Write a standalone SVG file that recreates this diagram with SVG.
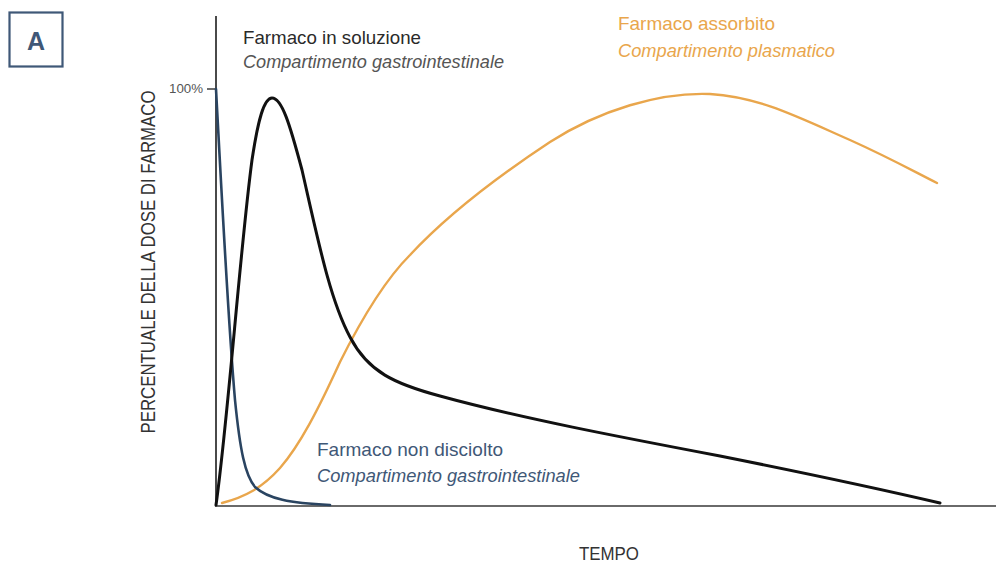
<svg xmlns="http://www.w3.org/2000/svg" width="996" height="564" viewBox="0 0 996 564">
<style>
.t{font-family:"Liberation Sans Narrow","Liberation Sans",Arial,sans-serif;}
.it{font-style:italic;}
.curve{fill:none;stroke-linecap:round;stroke-linejoin:round;}
</style>
<rect width="996" height="564" fill="#ffffff"/>
<g id="panel-label">
<rect x="9.5" y="12.5" width="53" height="54" fill="none" stroke="#3f5877" stroke-width="2.2"/>
<text class="t" x="36" y="50" font-size="25" font-weight="bold" fill="#3f5877" text-anchor="middle">A</text>
</g>
<g id="axes">
<line x1="216" y1="16" x2="216" y2="507" stroke="#4a4a4a" stroke-width="2"/>
<line x1="215" y1="506" x2="996" y2="506" stroke="#6a6a6a" stroke-width="2"/>
<line x1="207" y1="89" x2="216" y2="89" stroke="#4a4a4a" stroke-width="1.6"/>
<text class="t" x="203" y="93" font-size="12" fill="#555" text-anchor="end" textLength="34" lengthAdjust="spacingAndGlyphs">100%</text>
<text class="t" x="609" y="560" font-size="19" fill="#333" text-anchor="middle" textLength="60" lengthAdjust="spacingAndGlyphs">TEMPO</text>
<text class="t" transform="translate(155,262) rotate(-90)" font-size="21" fill="#333" text-anchor="middle" textLength="343" lengthAdjust="spacingAndGlyphs">PERCENTUALE DELLA DOSE DI FARMACO</text>
</g>
<g id="connectors">
<path id="orange-curve" class="curve" stroke="#e9a64c" stroke-width="2.4" d="M222,503 C245,497 262,488 280,468 C300,445 318,410 340,362 C362,318 385,280 410,255 C450,212 500,175 550,142 C600,110 660,92 710,94 C760,97 800,118 850,140 C890,158 915,172 937,183"/>
<path id="blue-curve" class="curve" stroke="#2a4461" stroke-width="2.6" d="M216,89 C222,200 228,320 235,400 C240,450 245,475 255,487 C268,499 290,503 330,505"/>
<path id="black-curve" class="curve" stroke="#111" stroke-width="3" d="M216,505 C228,420 240,250 252,160 C258,120 264,98 272,98 C282,98 290,125 302,170 C318,240 330,300 350,337 C368,372 395,384 440,396 C520,418 620,437 720,456 C820,476 880,489 940,503"/>
</g>
<g id="node-soluzione">
<text class="t" x="243" y="44" font-size="19" fill="#2a2a2a" textLength="178" lengthAdjust="spacingAndGlyphs">Farmaco in soluzione</text>
<text class="t it" x="243" y="68" font-size="19" fill="#555" textLength="261" lengthAdjust="spacingAndGlyphs">Compartimento gastrointestinale</text>
</g>
<g id="node-assorbito">
<text class="t" x="618" y="30" font-size="19" fill="#e9a64c" textLength="157" lengthAdjust="spacingAndGlyphs">Farmaco assorbito</text>
<text class="t it" x="618" y="57" font-size="19" fill="#e9a64c" textLength="217" lengthAdjust="spacingAndGlyphs">Compartimento plasmatico</text>
</g>
<g id="node-non-disciolto">
<text class="t" x="317" y="456" font-size="19" fill="#3f5877" textLength="186" lengthAdjust="spacingAndGlyphs">Farmaco non disciolto</text>
<text class="t it" x="317" y="482" font-size="19" fill="#3f5877" textLength="263" lengthAdjust="spacingAndGlyphs">Compartimento gastrointestinale</text>
</g>
</svg>
